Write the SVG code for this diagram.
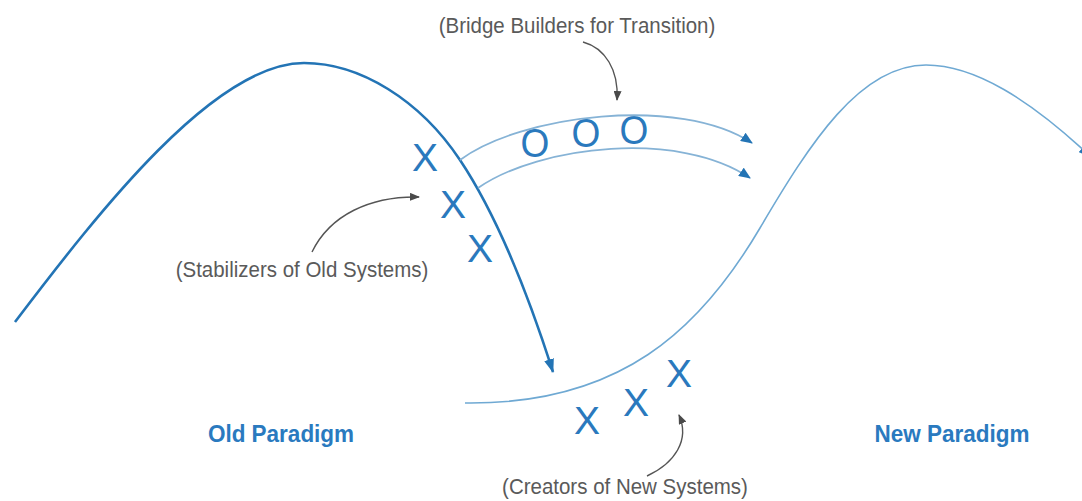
<svg xmlns="http://www.w3.org/2000/svg" width="1082" height="501" viewBox="0 0 1082 501">
  <defs>
    <marker id="blueHead" viewBox="0 0 12 10" refX="11" refY="5" markerWidth="12" markerHeight="10" markerUnits="userSpaceOnUse" orient="auto">
      <path d="M0,0 L12,5 L0,10 Z" fill="#2374b5"/>
    </marker>
    <marker id="bigBlueHead" viewBox="0 0 14 10" refX="13" refY="5" markerWidth="14" markerHeight="10" markerUnits="userSpaceOnUse" orient="auto">
      <path d="M0,0 L14,5 L0,10 Z" fill="#2374b5"/>
    </marker>
    <marker id="grayHead" viewBox="0 0 10 8" refX="9" refY="4" markerWidth="10" markerHeight="8" markerUnits="userSpaceOnUse" orient="auto">
      <path d="M0,0 L10,4 L0,8 Z" fill="#4a4a4a"/>
    </marker>
  </defs>
  <style>
    .old-curve { fill: none; stroke: #2374b5; stroke-width: 2.6; }
    .new-curve { fill: none; stroke: #6fa9d3; stroke-width: 1.6; }
    .bridge { fill: none; stroke: #86b3d6; stroke-width: 1.8; }
    .note-arrow { fill: none; stroke: #555555; stroke-width: 1.4; }
    .mark { font-family: "Liberation Sans", Arial, sans-serif; font-size: 39px; fill: #2a79bd; text-anchor: middle; }
    .note { font-family: "Liberation Sans", Arial, sans-serif; font-size: 20.5px; fill: #5a5a5a; text-anchor: middle; }
    .title { font-family: "Liberation Sans", Arial, sans-serif; font-size: 22.5px; font-weight: bold; fill: #2a7abf; text-anchor: middle; }
  </style>
  <rect width="1082" height="501" fill="#ffffff"/>

  <g id="old-paradigm">
    <path class="old-curve" d="M15,322 C100,210 215,63 304,63 C360,63 420,100 460,160 C500,220 530,300 553,372" marker-end="url(#bigBlueHead)"/>
    <text class="title" transform="translate(281,442) scale(1,1.08)">Old Paradigm</text>
  </g>

  <g id="new-paradigm">
    <path class="new-curve" d="M465,403 C620,405 700,330 760,228 C810,143 860,65 926,65 C975,65 1030,100 1090,156" marker-end="url(#blueHead)"/>
    <text class="title" transform="translate(952,442) scale(1,1.08)">New Paradigm</text>
  </g>

  <g id="stabilizers">
    <text class="mark" x="425" y="171">X</text>
    <text class="mark" x="453" y="218">X</text>
    <text class="mark" x="480" y="262">X</text>
    <text class="note" transform="translate(302,277) scale(1,1.12)">(Stabilizers of Old Systems)</text>
  </g>

  <g id="bridge-builders">
    <text class="mark" transform="translate(535,157) scale(0.95,1.05)">O</text>
    <text class="mark" transform="translate(586,147) scale(0.95,1.05)">O</text>
    <text class="mark" transform="translate(634,144) scale(0.95,1.05)">O</text>
    <text class="note" transform="translate(577,33) scale(1,1.12)">(Bridge Builders for Transition)</text>
  </g>

  <g id="creators">
    <text class="mark" x="587" y="434">X</text>
    <text class="mark" x="636" y="416">X</text>
    <text class="mark" x="679" y="387">X</text>
    <text class="note" transform="translate(625,494) scale(1,1.05)">(Creators of New Systems)</text>
  </g>

  <g id="connectors">
    <path class="bridge" d="M460,160 C520,115 680,95 752,143" marker-end="url(#blueHead)"/>
    <path class="bridge" d="M478,188 C540,145 680,130 750,178" marker-end="url(#blueHead)"/>
    <path class="note-arrow" d="M583,42 C605,48 619,70 617,100" marker-end="url(#grayHead)"/>
    <path class="note-arrow" d="M312,252 C330,215 370,196 419,197" marker-end="url(#grayHead)"/>
    <path class="note-arrow" d="M647,476 C675,463 690,440 679,415" marker-end="url(#grayHead)"/>
  </g>
</svg>
